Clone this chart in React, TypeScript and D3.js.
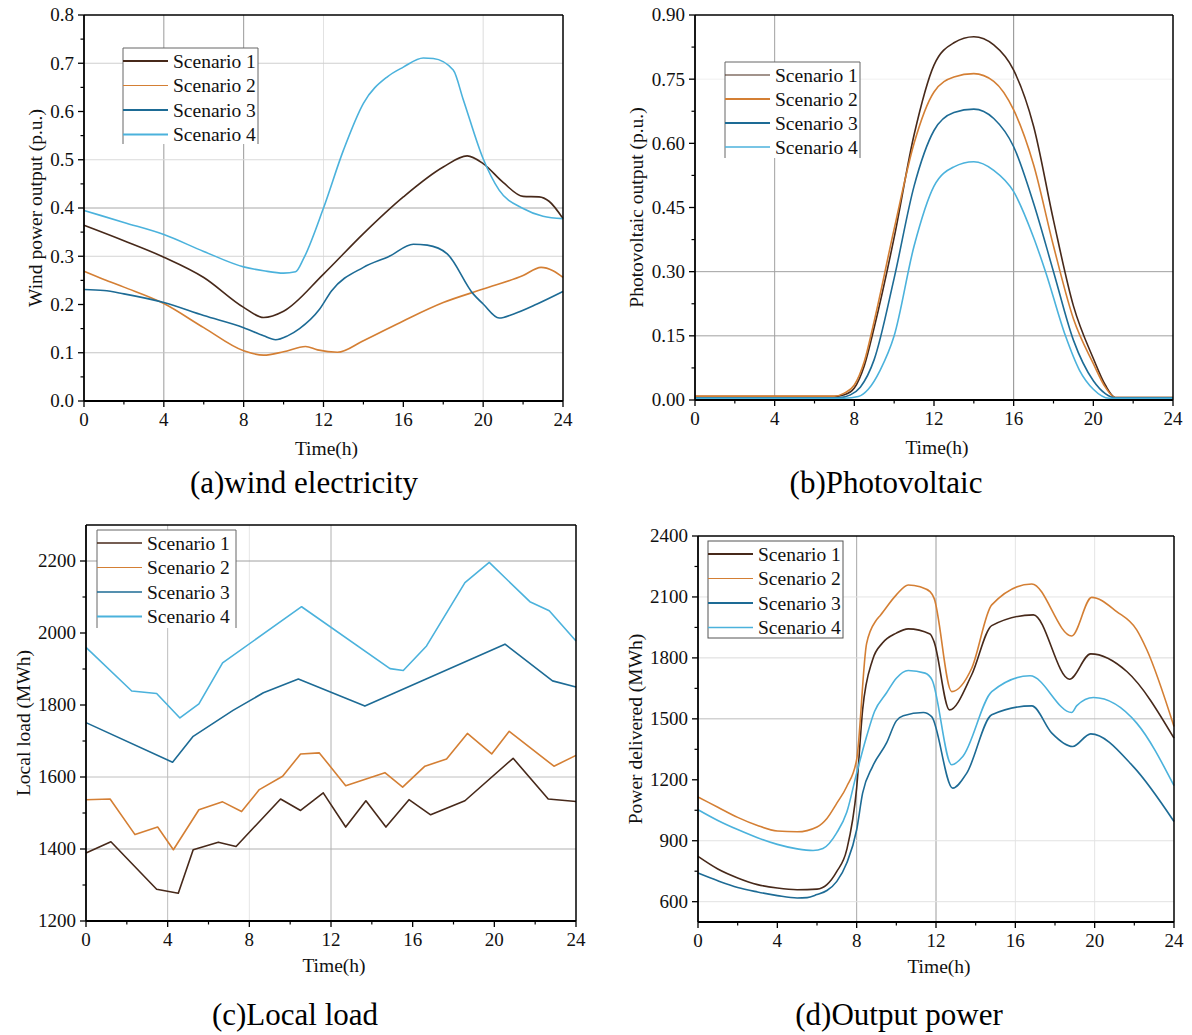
import React from "react";
import * as d3 from "d3";

// ---- shared axis values ----
const HOUR_MAJOR = [0, 4, 8, 12, 16, 20, 24];
const HOUR_MINOR = [2, 6, 10, 14, 18, 22];
const SCENARIOS = ["Scenario 1", "Scenario 2", "Scenario 3", "Scenario 4"];
const COLORS = ["#47291a", "#d47f34", "#1d6b95", "#4bb2dc"];

// ---- (a) wind power output, p.u. : [hour, value] ----
const windS1: [number, number][] = [[0,0.364],[2,0.332],[4,0.298],[6,0.256],[8,0.194],[9,0.173],[10,0.186],[12,0.263],[14,0.347],[16,0.423],[18,0.485],[19.2,0.508],[20,0.492],[21,0.453],[22,0.424],[22.8,0.423],[23.3,0.414],[24,0.378]];
const windS2: [number, number][] = [[0,0.269],[1,0.252],[2,0.236],[4,0.202],[6,0.152],[8,0.104],[9,0.095],[10,0.102],[11.1,0.113],[11.7,0.106],[12.7,0.101],[14,0.125],[16,0.166],[18,0.204],[20,0.232],[22,0.26],[22.9,0.277],[23.5,0.27],[24,0.256]];
const windS3: [number, number][] = [[0,0.231],[1,0.229],[2,0.222],[4,0.204],[6,0.177],[8,0.152],[9,0.135],[9.6,0.127],[10.2,0.135],[10.8,0.15],[11.8,0.19],[12.4,0.228],[14,0.277],[15.3,0.3],[16.5,0.325],[17.2,0.323],[18.2,0.305],[19.5,0.222],[20,0.201],[20.8,0.172],[21.5,0.18],[22.7,0.201],[24,0.227]];
const windS4: [number, number][] = [[0,0.395],[2,0.37],[4,0.345],[6,0.31],[8,0.278],[9,0.27],[10,0.265],[10.6,0.268],[11,0.295],[12,0.4],[13,0.52],[14,0.617],[15.2,0.672],[16,0.692],[17,0.711],[17.5,0.71],[18.5,0.686],[19,0.625],[20,0.502],[20.8,0.437],[22,0.399],[23,0.383],[24,0.378]];

// ---- (b) photovoltaic output, p.u. ----
const pvS1: [number, number][] = [[0,0.008],[7,0.008],[7.5,0.012],[8,0.028],[8.5,0.08],[9,0.17],[10,0.38],[11,0.62],[12,0.783],[13,0.835],[14,0.849],[15,0.83],[16,0.771],[17,0.64],[18,0.42],[19,0.22],[20,0.097],[20.6,0.035],[21.1,0.006],[24,0.006]];
const pvS2: [number, number][] = [[0,0.009],[7,0.009],[7.5,0.016],[8,0.035],[8.5,0.09],[9,0.185],[10,0.4],[11,0.6],[12,0.72],[13,0.755],[14,0.763],[15,0.745],[16,0.678],[17,0.55],[18,0.36],[19,0.19],[20,0.085],[20.6,0.03],[21.1,0.006],[24,0.006]];
const pvS3: [number, number][] = [[0,0.005],[7.2,0.005],[7.8,0.012],[8.3,0.03],[9,0.095],[10,0.285],[11,0.5],[12,0.63],[13,0.672],[14,0.68],[15,0.658],[16,0.592],[17,0.46],[18,0.3],[19,0.14],[20,0.045],[20.6,0.015],[21.1,0.005],[24,0.005]];
const pvS4: [number, number][] = [[0,0.004],[7.5,0.004],[8.2,0.008],[8.7,0.025],[9.3,0.07],[10,0.15],[11,0.36],[12,0.5],[13,0.545],[14,0.557],[15,0.537],[16,0.487],[17,0.38],[17.6,0.3],[18.6,0.15],[19.3,0.07],[20,0.025],[20.8,0.004],[24,0.004]];

// ---- (c) local load, MWh ----
const loadS1: [number, number][] = [[0,1389],[1.22,1420],[3.46,1288],[4.52,1277],[5.25,1398],[6.48,1419],[7.35,1407],[9.53,1539],[10.51,1507],[11.62,1556],[12.72,1461],[13.71,1534],[14.69,1461],[15.82,1537],[16.88,1495],[18.56,1534],[20.92,1652],[22.64,1539],[24,1532]];
const loadS2: [number, number][] = [[0,1537],[1.18,1539],[2.4,1440],[3.51,1461],[4.28,1398],[5.53,1509],[6.69,1531],[7.62,1504],[8.49,1565],[9.63,1602],[10.51,1664],[11.43,1667],[12.72,1576],[14.64,1612],[15.51,1572],[16.6,1630],[17.66,1650],[18.68,1721],[19.87,1664],[20.73,1727],[22.92,1630],[24,1660]];
const loadS3: [number, number][] = [[0,1751],[4.24,1641],[5.25,1713],[7.2,1785],[8.69,1834],[10.4,1872],[13.66,1797],[20.52,1969],[22.85,1867],[24,1850]];
const loadS4: [number, number][] = [[0,1960],[2.24,1839],[3.46,1832],[4.6,1764],[5.53,1803],[6.69,1917],[10.56,2073],[14.89,1901],[15.54,1896],[16.68,1964],[18.56,2140],[19.75,2196],[21.74,2087],[22.69,2062],[24,1978]];

// ---- (d) power delivered, MWh ----
const outS1: [number, number][] = [[0,823],[1,761],[2,717],[3,684],[4,667],[5,659],[6,662],[6.5,684],[7,749],[7.5,856],[8,1160],[8.3,1544],[8.8,1790],[9.3,1873],[10,1922],[10.6,1943],[11.7,1918],[11.9,1880],[12.68,1544],[13.8,1717],[14.81,1959],[16.91,2012],[18.73,1695],[19.8,1820],[21.62,1733],[24,1405]];
const outS2: [number, number][] = [[0,1115],[1,1065],[2,1015],[3,975],[4,948],[5,944],[6,968],[6.5,1010],[7,1085],[7.5,1167],[8,1300],[8.5,1870],[9,1987],[9.2,2010],[10,2110],[10.6,2159],[11.2,2150],[11.7,2126],[11.9,2094],[12.79,1634],[13.8,1749],[14.81,2061],[16.83,2164],[18.84,1908],[19.85,2098],[21.11,2028],[22.12,1938],[22.63,1840],[24,1462]];
const outS3: [number, number][] = [[0,741],[1,703],[2,670],[3,648],[4,630],[5,618],[5.5,620],[6,635],[6.5,655],[7,700],[7.5,790],[8,954],[8.3,1134],[8.8,1265],[9.5,1380],[10,1490],[10.35,1515],[11.36,1531],[11.78,1511],[12.84,1159],[13.55,1233],[14.81,1520],[16.83,1564],[17.84,1430],[18.89,1364],[19.8,1426],[21.95,1265],[24,995]];
const outS4: [number, number][] = [[0,1053],[1,1000],[2,955],[3,915],[4,882],[5,860],[5.8,852],[6.3,862],[7,940],[7.5,1040],[8,1233],[8.5,1413],[8.9,1536],[9.5,1627],[10,1700],[10.6,1738],[11.45,1725],[11.8,1692],[12.79,1274],[13.35,1315],[14.81,1634],[16.74,1712],[18.84,1531],[19.1,1565],[19.94,1605],[22.12,1479],[24,1171]];

// ---- y-axis ticks ----
const windTicks = [0, 0.1, 0.2, 0.3, 0.4, 0.5, 0.6, 0.7, 0.8];
const pvTicks = [0, 0.15, 0.3, 0.45, 0.6, 0.75, 0.9];
const loadTicks = [1200, 1400, 1600, 1800, 2000, 2200];
const outTicks = [600, 900, 1200, 1500, 1800, 2100, 2400];

const FONT = "'Liberation Serif', 'Times New Roman', Times, serif";

type Grid = { v: number; c: string };
type PanelCfg = {
  left: number; top: number; right: number; bottom: number;
  yDomain: [number, number];
  yTicks: number[]; yMinor: number[]; fmt: (n: number) => string;
  yLabel: string; yLabelX: number; xTitleDy: number;
  caption: string; capX: number; capY: number;
  series: [number, number][][];
  curve: d3.CurveFactory;
  vGrid: Grid[]; hGrid: Grid[];
  legend: { x: number; y: number; w: number; h: number; rowH: number; widths: number[]; full: boolean };
};

const mid = (arr: number[]) => arr.slice(0, -1).map((v, i) => (v + arr[i + 1]) / 2);

const panels: PanelCfg[] = [
  {
    left: 84, top: 15, right: 563, bottom: 401, yDomain: [0, 0.8],
    yTicks: windTicks, yMinor: mid(windTicks), fmt: d3.format(".1f"),
    yLabel: "Wind power output (p.u.)", yLabelX: 35, xTitleDy: 54,
    caption: "(a)wind electricity", capX: 304, capY: 493,
    series: [windS1, windS2, windS3, windS4], curve: d3.curveMonotoneX,
    vGrid: [{ v: 4, c: "#9a9a9a" }, { v: 8, c: "#9a9a9a" }, { v: 12, c: "#e2e2e2" }, { v: 20, c: "#dcdcdc" }],
    hGrid: [{ v: 0.1, c: "#c4c4c4" }, { v: 0.3, c: "#d4d4d4" }, { v: 0.4, c: "#a8a8a8" }, { v: 0.5, c: "#dadada" }, { v: 0.7, c: "#cfcfcf" }],
    legend: { x: 123, y: 48, w: 135, h: 96, rowH: 24.5, widths: [2.2, 1, 2, 2], full: false },
  },
  {
    left: 695, top: 15, right: 1173, bottom: 400, yDomain: [0, 0.9],
    yTicks: pvTicks, yMinor: mid(pvTicks), fmt: d3.format(".2f"),
    yLabel: "Photovoltaic output (p.u.)", yLabelX: 636, xTitleDy: 54,
    caption: "(b)Photovoltaic", capX: 886, capY: 493,
    series: [pvS1, pvS2, pvS3, pvS4], curve: d3.curveMonotoneX,
    vGrid: [{ v: 4, c: "#a0a0a0" }, { v: 16, c: "#8c8c8c" }],
    hGrid: [{ v: 0.15, c: "#a0a0a0" }, { v: 0.3, c: "#a0a0a0" }, { v: 0.75, c: "#f0f0f0" }],
    legend: { x: 725, y: 62, w: 135, h: 96, rowH: 24, widths: [1.2, 2.2, 2, 1.5], full: false },
  },
  {
    left: 86, top: 525, right: 576, bottom: 921, yDomain: [1200, 2300],
    yTicks: loadTicks, yMinor: [1300, 1500, 1700, 1900, 2100], fmt: d3.format("d"),
    yLabel: "Local load (MWh)", yLabelX: 23, xTitleDy: 51,
    caption: "(c)Local load", capX: 295, capY: 1025,
    series: [loadS1, loadS2, loadS3, loadS4], curve: d3.curveLinear,
    vGrid: [{ v: 4, c: "#bdbdbd" }, { v: 8, c: "#e6e6e6" }, { v: 12, c: "#b0b0b0" }],
    hGrid: [{ v: 1400, c: "#b0b0b0" }, { v: 1600, c: "#c0c0c0" }, { v: 2200, c: "#a0a0a0" }],
    legend: { x: 97, y: 530, w: 139, h: 98, rowH: 24.5, widths: [1.5, 1.2, 1.5, 2], full: false },
  },
  {
    left: 698, top: 536, right: 1174, bottom: 922, yDomain: [500, 2400],
    yTicks: outTicks, yMinor: [750, 1050, 1350, 1650, 1950, 2250], fmt: d3.format("d"),
    yLabel: "Power delivered (MWh)", yLabelX: 635, xTitleDy: 51,
    caption: "(d)Output power", capX: 899, capY: 1025,
    series: [outS1, outS2, outS3, outS4], curve: d3.curveMonotoneX,
    vGrid: [{ v: 8, c: "#a8a8a8" }, { v: 12, c: "#9c9c9c" }, { v: 16, c: "#e4e4e4" }, { v: 20, c: "#e4e4e4" }],
    hGrid: [{ v: 600, c: "#e2e2e2" }, { v: 900, c: "#e2e2e2" }, { v: 1500, c: "#bdbdbd" }, { v: 1800, c: "#dadada" }, { v: 2100, c: "#e4e4e4" }],
    legend: { x: 708, y: 541, w: 135, h: 97, rowH: 24.5, widths: [2, 1.2, 2, 1.5], full: true },
  },
];

function Panel({ cfg }: { cfg: PanelCfg }) {
  const x = d3.scaleLinear().domain([0, 24]).range([cfg.left, cfg.right]);
  const y = d3.scaleLinear().domain(cfg.yDomain).range([cfg.bottom, cfg.top]);
  const line = d3
    .line<[number, number]>()
    .x((d) => x(d[0]))
    .y((d) => y(d[1]))
    .curve(cfg.curve);
  const lg = cfg.legend;
  const midX = (cfg.left + cfg.right) / 2;
  const midY = (cfg.top + cfg.bottom) / 2;

  return (
    <g>
      {/* grid */}
      {cfg.vGrid.map((g) => (
        <line key={"vg" + g.v} x1={x(g.v)} x2={x(g.v)} y1={cfg.top} y2={cfg.bottom} stroke={g.c} strokeWidth={1} />
      ))}
      {cfg.hGrid.map((g) => (
        <line key={"hg" + g.v} x1={cfg.left} x2={cfg.right} y1={y(g.v)} y2={y(g.v)} stroke={g.c} strokeWidth={1} />
      ))}

      {/* legend box */}
      <g>
        <rect x={lg.x} y={lg.y} width={lg.w} height={lg.h} fill="#fff" stroke="none" />
        {lg.full ? (
          <rect x={lg.x} y={lg.y} width={lg.w} height={lg.h} fill="none" stroke="#555" strokeWidth={1} />
        ) : (
          <path d={`M${lg.x},${lg.y + lg.h}V${lg.y}H${lg.x + lg.w}V${lg.y + lg.h}`} fill="none" stroke="#666" strokeWidth={1} />
        )}
        {SCENARIOS.map((s, i) => {
          const cy = lg.y + 13 + i * lg.rowH;
          return (
            <g key={s}>
              <line x1={lg.x} x2={lg.x + 45} y1={cy} y2={cy} stroke={COLORS[i]} strokeWidth={lg.widths[i]} />
              <text x={lg.x + 50} y={cy} dy="0.34em" fontSize={19.5} fontFamily={FONT} fill="#111">
                {s}
              </text>
            </g>
          );
        })}
      </g>

      {/* series */}
      {cfg.series.map((s, i) => (
        <path key={i} d={line(s) || ""} fill="none" stroke={COLORS[i]} strokeWidth={1.6} strokeLinejoin="round" />
      ))}

      {/* frame */}
      <line x1={cfg.left} x2={cfg.right} y1={cfg.top} y2={cfg.top} stroke="#000" strokeWidth={1.3} />
      <line x1={cfg.right} x2={cfg.right} y1={cfg.top} y2={cfg.bottom} stroke="#000" strokeWidth={1.5} />
      <line x1={cfg.left} x2={cfg.left} y1={cfg.top} y2={cfg.bottom} stroke="#000" strokeWidth={1.8} />
      <line x1={cfg.left} x2={cfg.right} y1={cfg.bottom} y2={cfg.bottom} stroke="#000" strokeWidth={1.8} />

      {/* x ticks */}
      {HOUR_MAJOR.map((h) => (
        <g key={"xt" + h}>
          <line x1={x(h)} x2={x(h)} y1={cfg.bottom} y2={cfg.bottom + 6} stroke="#000" strokeWidth={1.3} />
          <text x={x(h)} y={cfg.bottom + 25} textAnchor="middle" fontSize={19} fontFamily={FONT} fill="#111">
            {h}
          </text>
        </g>
      ))}
      {HOUR_MINOR.map((h) => (
        <line key={"xm" + h} x1={x(h)} x2={x(h)} y1={cfg.bottom} y2={cfg.bottom + 3.5} stroke="#000" strokeWidth={1.2} />
      ))}

      {/* y ticks */}
      {cfg.yTicks.map((v) => (
        <g key={"yt" + v}>
          <line x1={cfg.left - 6} x2={cfg.left} y1={y(v)} y2={y(v)} stroke="#000" strokeWidth={1.3} />
          <text x={cfg.left - 10} y={y(v)} dy="0.34em" textAnchor="end" fontSize={19} fontFamily={FONT} fill="#111">
            {cfg.fmt(v)}
          </text>
        </g>
      ))}
      {cfg.yMinor.map((v) => (
        <line key={"ym" + v} x1={cfg.left - 3.5} x2={cfg.left} y1={y(v)} y2={y(v)} stroke="#000" strokeWidth={1.2} />
      ))}

      {/* axis titles */}
      <text x={midX + 3} y={cfg.bottom + cfg.xTitleDy} textAnchor="middle" fontSize={19.5} fontFamily={FONT} fill="#111">
        Time(h)
      </text>
      <text
        transform={`translate(${cfg.yLabelX},${midY}) rotate(-90)`}
        dy="0.34em"
        textAnchor="middle"
        fontSize={19.5}
        fontFamily={FONT}
        fill="#111"
      >
        {cfg.yLabel}
      </text>

      {/* caption */}
      <text x={cfg.capX} y={cfg.capY} textAnchor="middle" fontSize={31} fontFamily={FONT} fill="#000">
        {cfg.caption}
      </text>
    </g>
  );
}

export default function App() {
  return (
    <svg
      width={1192}
      height={1035}
      viewBox="0 0 1192 1035"
      style={{ position: "absolute", left: 0, top: 0, display: "block", background: "#fff" }}
    >
      <rect x={0} y={0} width={1192} height={1035} fill="#fff" />
      {panels.map((p, i) => (
        <Panel key={i} cfg={p} />
      ))}
    </svg>
  );
}
